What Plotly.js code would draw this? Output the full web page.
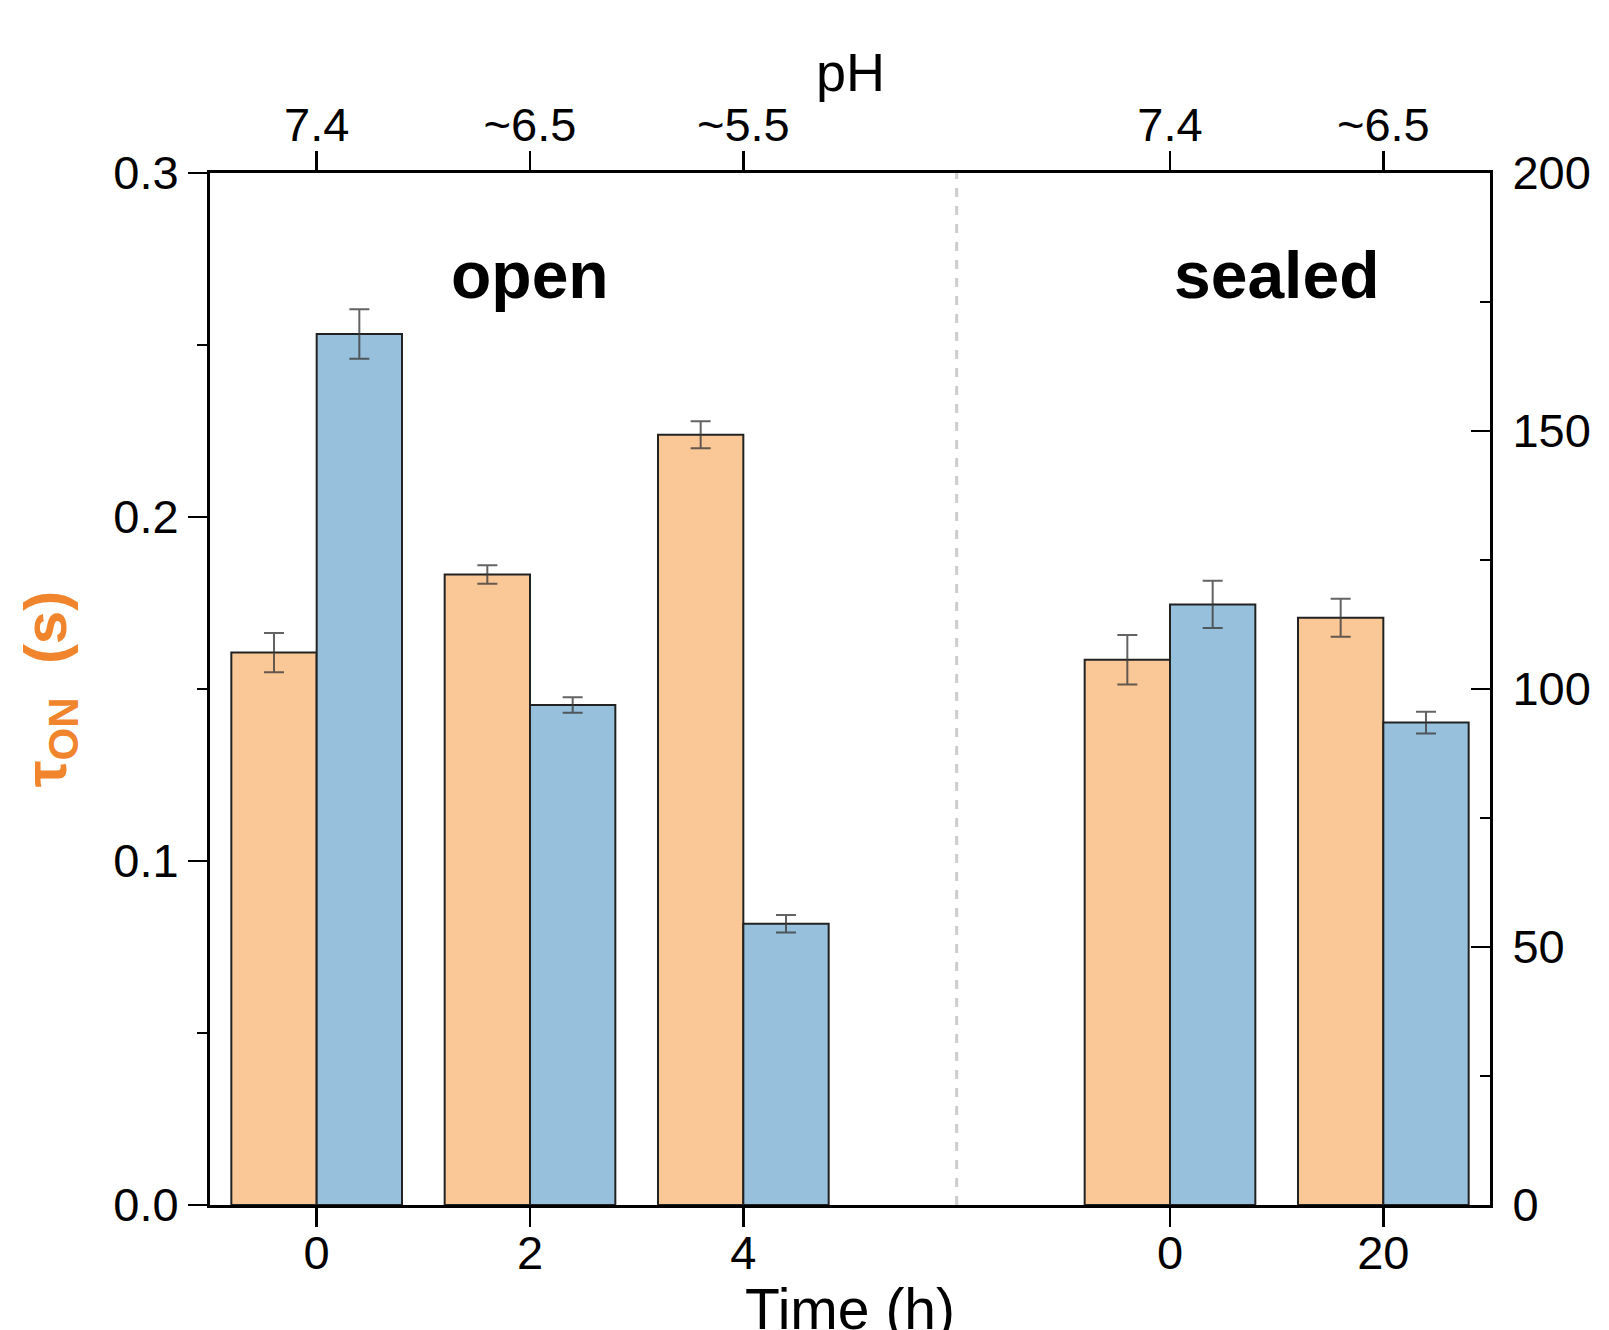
<!DOCTYPE html>
<html>
<head>
<meta charset="utf-8">
<script src="https://cdn.plot.ly/plotly-3.0.1.min.js"></script>
<style>html,body{margin:0;padding:0;background:#fff;}#chart{width:1609px;height:1330px;}</style>
</head>
<body>
<div id="chart"></div>
<script>
// ---- data ----
const timeLabels = ["0", "2", "4", "0", "20"];
const phLabels   = ["7.4", "~6.5", "~5.5", "7.4", "~6.5"];
const groups     = ["open", "open", "open", "sealed", "sealed"];
const tauOn      = [0.1606, 0.1833, 0.2239, 0.1585, 0.1707];   // left axis (s)
const tauOnErr   = [0.0057, 0.0027, 0.0039, 0.0072, 0.0055];
const tauOff     = [168.8, 96.9, 54.5, 116.4, 93.5];           // right axis
const tauOffErr  = [4.8, 1.5, 1.7, 4.6, 2.1];
const groupNames = ["open", "sealed"];

// positions: one slot per condition, one empty slot between groups
const pos = groups.map((g, i) => i + (g === "sealed" ? 1 : 0));
const gapPos = pos[2] + 1;
const groupCenters = groupNames.map(g => {
  const p = pos.filter((_, i) => groups[i] === g);
  return (Math.min(...p) + Math.max(...p)) / 2;
});

const FONT = "Liberation Sans, Arial, Helvetica, sans-serif";
const orange = "rgb(250,199,151)";
const blue = "rgb(150,192,220)";
const errStyle = {type: "data", visible: true, color: "rgba(60,60,60,0.8)", thickness: 2, width: 10};

const traces = [
  {
    type: "bar", x: pos, y: tauOn, xaxis: "x", yaxis: "y",
    width: 0.4, offset: -0.4,
    marker: {color: orange, line: {color: "#222", width: 2}},
    error_y: Object.assign({array: tauOnErr}, errStyle),
    name: "τON", showlegend: false, hoverinfo: "skip"
  },
  {
    type: "bar", x: pos, y: tauOff, xaxis: "x", yaxis: "y2",
    width: 0.4, offset: 0,
    marker: {color: blue, line: {color: "#222", width: 2}},
    error_y: Object.assign({array: tauOffErr}, errStyle),
    name: "τOFF", showlegend: false, hoverinfo: "skip"
  },
  {
    type: "scatter", mode: "markers", x: pos, y: tauOn, xaxis: "x2", yaxis: "y",
    marker: {opacity: 0}, showlegend: false, hoverinfo: "skip"
  }
];

const axisCommon = {
  showline: true, linecolor: "#000", linewidth: 3,
  showgrid: false, zeroline: false,
  ticks: "outside", ticklen: 19, tickwidth: 2.5, tickcolor: "#000",
  tickfont: {family: FONT, size: 47, color: "#000"}
};

const layout = {
  width: 1609, height: 1330,
  margin: {l: 210, r: 119, t: 173, b: 125},
  paper_bgcolor: "#fff", plot_bgcolor: "#fff",
  font: {family: FONT, color: "#000"},
  barmode: "overlay",
  xaxis: Object.assign({}, axisCommon, {
    range: [-0.5, 5.5], tickvals: pos, ticktext: timeLabels,
    ticklabelstandoff: -14,
    automargin: false
  }),
  xaxis2: Object.assign({}, axisCommon, {
    overlaying: "x", side: "top", anchor: "y",
    range: [-0.5, 5.5], tickvals: pos, ticktext: phLabels,
    ticklabelstandoff: -9,
    automargin: false
  }),
  yaxis: Object.assign({}, axisCommon, {
    range: [0, 0.3], dtick: 0.1, tick0: 0, tickformat: ".1f",
    minor: {dtick: 0.05, ticks: "outside", ticklen: 10, tickwidth: 2.5, tickcolor: "#000"},
    title: {
      text: "τ<sub>ON</sub>  (s)",
      font: {family: FONT, size: 60, color: "rgb(240,133,45)", weight: "bold"},
      standoff: 28
    },
    automargin: false
  }),
  yaxis2: Object.assign({}, axisCommon, {
    overlaying: "y", side: "right", anchor: "x",
    range: [0, 200], dtick: 50, tick0: 0,
    ticks: "inside", ticklabelstandoff: 10,
    minor: {dtick: 25, ticks: "inside", ticklen: 10, tickwidth: 2.5, tickcolor: "#000"},
    automargin: false
  }),
  shapes: [{
    type: "line", xref: "x", yref: "paper",
    x0: gapPos, x1: gapPos, y0: 0, y1: 1,
    line: {color: "rgb(205,205,205)", width: 3, dash: "dash"},
    layer: "below"
  }],
  annotations: groupNames.map((g, i) => ({
    text: "<b>" + g + "</b>", xref: "x", yref: "paper",
    x: groupCenters[i], y: 0.9015, showarrow: false,
    font: {family: FONT, size: 66, color: "#000"},
    xanchor: "center", yanchor: "middle"
  })).concat([
    {
      text: "Time (h)", xref: "paper", yref: "paper", x: 0.5, y: 0,
      xanchor: "center", yanchor: "top", yshift: -70, showarrow: false,
      font: {family: FONT, size: 57, color: "#000"}
    },
    {
      text: "pH", xref: "paper", yref: "paper", x: 0.5, y: 1,
      xanchor: "center", yanchor: "middle", yshift: 101, showarrow: false,
      font: {family: FONT, size: 54, color: "#000"}
    }
  ])
};

Plotly.newPlot("chart", traces, layout, {displayModeBar: false, staticPlot: true});
</script>
</body>
</html>
